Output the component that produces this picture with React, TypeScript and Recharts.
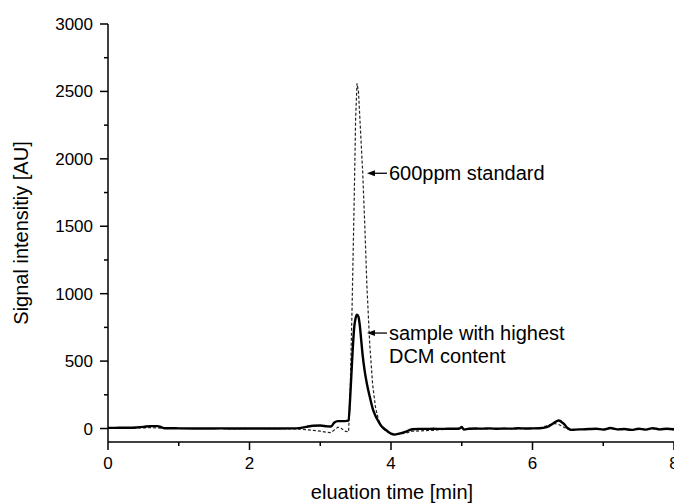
import React from 'react';
import { LineChart, Line, XAxis, YAxis, ReferenceDot } from 'recharts';

const time = [0, 0.1, 0.2, 0.3, 0.4, 0.5, 0.6, 0.7, 0.75, 0.8, 0.9, 1.0, 1.2, 1.4, 1.6, 1.8, 2.0, 2.2, 2.4, 2.6, 2.7, 2.8, 2.9, 3.0, 3.1, 3.15, 3.2, 3.25, 3.3, 3.35, 3.4, 3.42, 3.45, 3.48, 3.5, 3.52, 3.54, 3.56, 3.58, 3.6, 3.63, 3.66, 3.7, 3.74, 3.78, 3.82, 3.86, 3.9, 3.95, 4.0, 4.05, 4.1, 4.2, 4.3, 4.4, 4.5, 4.6, 4.7, 4.8, 4.9, 4.97, 5.0, 5.03, 5.1, 5.2, 5.3, 5.4, 5.5, 5.6, 5.7, 5.8, 5.9, 6.0, 6.1, 6.2, 6.3, 6.37, 6.45, 6.5, 6.55, 6.6, 6.7, 6.8, 6.9, 7.0, 7.1, 7.2, 7.3, 7.4, 7.5, 7.6, 7.7, 7.8, 7.9, 8.0];
const sample = [5, 5, 6, 6, 8, 12, 18, 18, 10, 2, 2, 1, 0, 0, 1, 0, 0, 0, 0, 1, 3, 12, 20, 22, 16, 15, 45, 55, 55, 55, 58, 200, 500, 750, 820, 845, 830, 760, 650, 540, 420, 330, 235, 150, 95, 55, 20, 0, -20, -38, -45, -40, -25, -5, -3, -3, -2, -3, -2, -2, 0, 12, -8, -2, 0, -1, 1, -2, 0, -1, 2, 0, 1, 2, 10, 40, 60, 30, 2, -10, -8, -6, -4, -2, -8, 4, -6, -4, -10, -2, -8, 3, -6, -2, -6];
const standard = [3, 3, 4, 3, 4, 5, 6, 5, 3, 2, 0, 0, 0, 0, 0, -1, 0, 0, -1, -2, -4, -8, -14, -20, -28, -30, -10, 10, 0, -20, -25, 200, 900, 1700, 2300, 2560, 2500, 2300, 2100, 1900, 1500, 1050, 620, 330, 160, 70, 20, -5, -25, -40, -45, -42, -35, -20, -18, -15, -14, -8, -4, -3, -2, 8, -10, -4, -2, -2, 0, -3, -1, -2, 0, -1, 2, 4, 20, 38, 30, 8, -5, -8, -8, -6, -5, -4, -6, 0, -8, -6, -10, -4, -10, -2, -8, -5, -10];

const xTicks = [0, 1, 2, 3, 4, 5, 6, 7, 8];
const yTicks = [0, 250, 500, 750, 1000, 1250, 1500, 1750, 2000, 2250, 2500, 2750, 3000];

const annStandard = { x: 3.66, y: 1893, lines: ['600ppm standard'] };
const annSample = { x: 3.66, y: 708, lines: ['sample with highest', 'DCM content'] };

const data = time.map((t, i) => ({ t, sample: sample[i], standard: standard[i] }));

const FONT = '"Liberation Sans", Arial, Helvetica, sans-serif';

const XTick = (props: any) => {
  const { x, y, payload } = props;
  const major = payload.value % 2 === 0;
  return (
    <g>
      <line x1={x} x2={x} y1={y} y2={y + (major ? 8 : 4)} stroke="#000" strokeWidth={1.5} />
      {major && (
        <text x={x} y={y + 27} textAnchor="middle" fontSize={17} fontFamily={FONT} fill="#000">
          {payload.value}
        </text>
      )}
    </g>
  );
};

const YTick = (props: any) => {
  const { x, y, payload } = props;
  const major = payload.value % 500 === 0;
  return (
    <g>
      <line x1={x} x2={x - (major ? 8 : 4)} y1={y} y2={y} stroke="#000" strokeWidth={1.5} />
      {major && (
        <text x={x - 15} y={y + 6} textAnchor="end" fontSize={17} fontFamily={FONT} fill="#000">
          {payload.value}
        </text>
      )}
    </g>
  );
};

const makeArrow = (lines: string[]) => (props: any) => {
  const { cx, cy } = props;
  return (
    <g>
      <line x1={cx + 6} x2={cx + 20} y1={cy} y2={cy} stroke="#000" strokeWidth={1.3} />
      <polygon points={`${cx},${cy} ${cx + 8},${cy - 3} ${cx + 8},${cy + 3}`} fill="#000" />
      {lines.map((l, i) => (
        <text key={i} x={cx + 22} y={cy + 7 + i * 23} fontSize={20} fontFamily={FONT} fill="#000">
          {l}
        </text>
      ))}
    </g>
  );
};

export default function App() {
  return (
    <div style={{ position: 'absolute', left: 0, top: 0, width: 674, height: 504, background: '#fff' }}>
      <LineChart width={674} height={504} data={data} margin={{ top: 24, right: 0, left: 0, bottom: 0 }}>
        <XAxis
          dataKey="t"
          type="number"
          domain={[0, 8]}
          ticks={xTicks}
          allowDataOverflow
          tickSize={0}
          tickMargin={0}
          tickLine={false}
          tick={<XTick />}
          height={62}
          axisLine={{ stroke: '#000', strokeWidth: 1.5 }}
          interval={0}
          label={{
            content: (p: any) => (
              <text x={392} y={499} textAnchor="middle" fontSize={20} fontFamily={FONT} fill="#000">
                eluation time [min]
              </text>
            ),
          }}
        />
        <YAxis
          type="number"
          domain={[-100, 3000]}
          ticks={yTicks}
          allowDataOverflow
          tickSize={0}
          tickMargin={0}
          tickLine={false}
          tick={<YTick />}
          width={108}
          interval={0}
          axisLine={{ stroke: '#000', strokeWidth: 1.5 }}
          label={{
            content: (p: any) => (
              <text
                x={28}
                y={233}
                transform="rotate(-90 28 233)"
                textAnchor="middle"
                fontSize={20}
                fontFamily={FONT}
                fill="#000"
              >
                Signal intensitiy [AU]
              </text>
            ),
          }}
        />
        <Line
          dataKey="standard"
          stroke="#222"
          strokeWidth={1.2}
          strokeDasharray="3 2"
          dot={false}
          isAnimationActive={false}
          type="linear"
        />
        <Line
          dataKey="sample"
          stroke="#000"
          strokeWidth={2.4}
          dot={false}
          isAnimationActive={false}
          type="monotone"
        />
        <ReferenceDot x={annStandard.x} y={annStandard.y} r={0} ifOverflow="visible" shape={makeArrow(annStandard.lines)} />
        <ReferenceDot x={annSample.x} y={annSample.y} r={0} ifOverflow="visible" shape={makeArrow(annSample.lines)} />
      </LineChart>
    </div>
  );
}
